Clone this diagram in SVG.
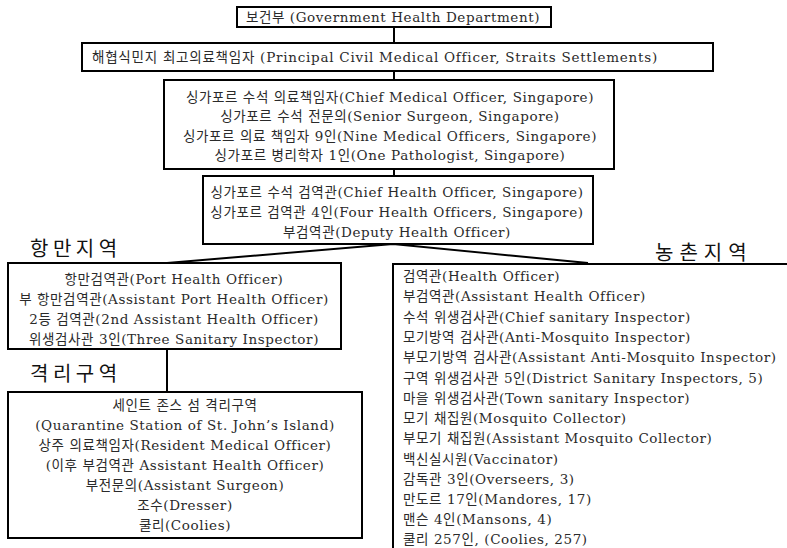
<svg xmlns="http://www.w3.org/2000/svg" width="787" height="548" viewBox="0 0 787 548">
<style>
.box{fill:#fff;stroke:#000;stroke-width:2}
.t{font-family:"DejaVu Serif","Noto Sans CJK KR",serif;font-size:13.5px;letter-spacing:0.6px;fill:#2a2a2a}
.c{text-anchor:middle}
.h{font-family:"Noto Sans CJK KR",sans-serif;font-size:20px;font-weight:400;fill:#111;letter-spacing:4.5px}
.ln{stroke:#000;stroke-width:2;fill:none}
</style>
<rect width="787" height="548" fill="#fff"/>
<g id="connectors">
<line class="ln" x1="394" y1="27" x2="394" y2="43"/>
<line class="ln" x1="394" y1="71" x2="394" y2="80"/>
<line class="ln" x1="394" y1="169" x2="394" y2="176"/>
<polyline class="ln" points="167,263 393,244 588,263"/>
<line class="ln" x1="167" y1="349" x2="167" y2="392"/>
</g>
<g id="n1">
<rect class="box" x="237" y="7" width="314" height="20"/>
<text class="t c" x="393" y="22">보건부 (Government Health Department)</text>
</g>
<g id="n2">
<rect class="box" x="82" y="43" width="631" height="28"/>
<text class="t" x="92" y="62" style="letter-spacing:0.75px">해협식민지 최고의료책임자 (Principal Civil Medical Officer, Straits Settlements)</text>
</g>
<g id="n3">
<rect class="box" x="164" y="80" width="450" height="89"/>
<text class="t c" x="390" y="102">싱가포르 수석 의료책임자(Chief Medical Officer, Singapore)</text>
<text class="t c" x="390" y="121">싱가포르 수석 전문의(Senior Surgeon, Singapore)</text>
<text class="t c" x="390" y="141">싱가포르 의료 책임자 9인(Nine Medical Officers, Singapore)</text>
<text class="t c" x="390" y="160">싱가포르 병리학자 1인(One Pathologist, Singapore)</text>
</g>
<g id="n4">
<rect class="box" x="203" y="176" width="390" height="68"/>
<text class="t c" x="397" y="197">싱가포르 수석 검역관(Chief Health Officer, Singapore)</text>
<text class="t c" x="397" y="217">싱가포르 검역관 4인(Four Health Officers, Singapore)</text>
<text class="t c" x="397" y="237">부검역관(Deputy Health Officer)</text>
</g>
<g id="port">
<text class="h" x="30" y="256">항만지역</text>
<rect class="box" x="8" y="263" width="333" height="86"/>
<text class="t c" x="174" y="284">항만검역관(Port Health Officer)</text>
<text class="t c" x="174" y="304">부 항만검역관(Assistant Port Health Officer)</text>
<text class="t c" x="174" y="324">2등 검역관(2nd Assistant Health Officer)</text>
<text class="t c" x="174" y="344">위생검사관 3인(Three Sanitary Inspector)</text>
</g>
<g id="quarantine">
<text class="h" x="30" y="381">격리구역</text>
<rect class="box" x="8" y="392" width="354" height="146"/>
<text class="t c" x="185" y="410">세인트 존스 섬 격리구역</text>
<text class="t c" x="185" y="430">(Quarantine Station of St. John’s Island)</text>
<text class="t c" x="185" y="450">상주 의료책임자(Resident Medical Officer)</text>
<text class="t c" x="185" y="470">(이후 부검역관 Assistant Health Officer)</text>
<text class="t c" x="185" y="490">부전문의(Assistant Surgeon)</text>
<text class="t c" x="185" y="510">조수(Dresser)</text>
<text class="t c" x="185" y="530">쿨리(Coolies)</text>
</g>
<g id="rural">
<text class="h" x="655" y="260" style="letter-spacing:6px">농촌지역</text>
<path class="ln" d="M787,264 H393 V548"/>
<text class="t" x="403" y="281">검역관(Health Officer)</text>
<text class="t" x="403" y="301">부검역관(Assistant Health Officer)</text>
<text class="t" x="403" y="322">수석 위생검사관(Chief sanitary Inspector)</text>
<text class="t" x="403" y="342">모기방역 검사관(Anti-Mosquito Inspector)</text>
<text class="t" x="403" y="362">부모기방역 검사관(Assistant Anti-Mosquito Inspector)</text>
<text class="t" x="403" y="383">구역 위생검사관 5인(District Sanitary Inspectors, 5)</text>
<text class="t" x="403" y="403">마을 위생검사관(Town sanitary Inspector)</text>
<text class="t" x="403" y="423">모기 채집원(Mosquito Collector)</text>
<text class="t" x="403" y="443">부모기 채집원(Assistant Mosquito Collector)</text>
<text class="t" x="403" y="464">백신실시원(Vaccinator)</text>
<text class="t" x="403" y="484">감독관 3인(Overseers, 3)</text>
<text class="t" x="403" y="504">만도르 17인(Mandores, 17)</text>
<text class="t" x="403" y="524">맨슨 4인(Mansons, 4)</text>
<text class="t" x="403" y="544">쿨리 257인, (Coolies, 257)</text>
</g>
</svg>
